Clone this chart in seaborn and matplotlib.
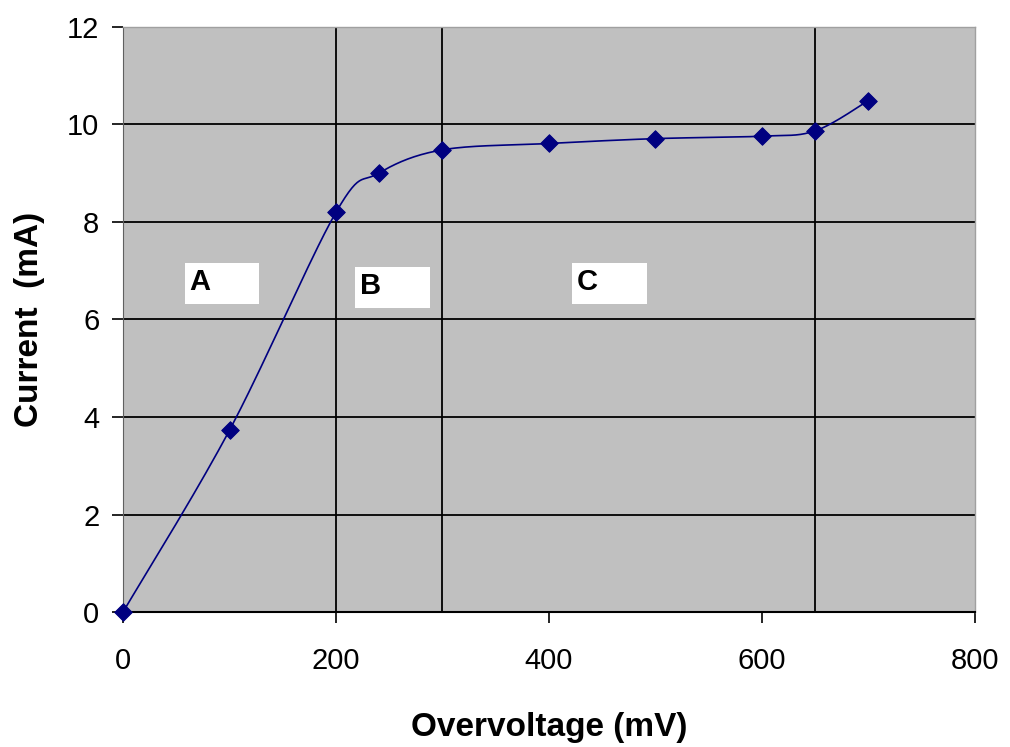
import matplotlib
matplotlib.use('Agg')
import matplotlib.pyplot as plt
from matplotlib.patches import Rectangle
import numpy as np
import pandas as pd
import seaborn as sns

# Data
overvoltage = [0, 100, 200, 240, 300, 400, 500, 600, 650, 700]
current = [0.0, 3.73, 8.2, 9.0, 9.48, 9.61, 9.71, 9.76, 9.87, 10.49]
region_labels = ['A', 'B', 'C']
region_bounds = [200, 300, 650]
x_ticks = [0, 200, 400, 600, 800]
y_ticks = [0, 2, 4, 6, 8, 10, 12]

df = pd.DataFrame({'mV': overvoltage, 'mA': current})


def smooth_curve(x, y, steps=30):
    """Excel-style smoothed line (Catmull-Rom through the points)."""
    x = np.asarray(x, float)
    y = np.asarray(y, float)
    px = np.concatenate([[x[0]], x, [x[-1]]])
    py = np.concatenate([[y[0]], y, [y[-1]]])
    xs, ys = [], []
    t = np.linspace(0, 1, steps)
    for i in range(1, len(px) - 2):
        p0, p1, p2, p3 = (np.array([px[j], py[j]]) for j in (i - 1, i, i + 1, i + 2))
        c1 = p1 + (p2 - p0) / 6
        c2 = p2 - (p3 - p1) / 6
        b = ((1 - t) ** 3)[:, None] * p1 + (3 * (1 - t) ** 2 * t)[:, None] * c1 \
            + (3 * (1 - t) * t ** 2)[:, None] * c2 + (t ** 3)[:, None] * p2
        xs.extend(b[:, 0])
        ys.extend(b[:, 1])
    return np.array(xs), np.array(ys)


sns.set_style('white', {'xtick.bottom': True, 'ytick.left': True,
                        'text.color': 'black', 'axes.labelcolor': 'black',
                        'xtick.color': 'black', 'ytick.color': 'black'})
plt.rcParams['font.family'] = ['Liberation Sans', 'DejaVu Sans']

fig = plt.figure(figsize=(10.1, 7.47), dpi=100)
ax = fig.add_axes([0.1218, 0.1807, 0.8435, 0.7832])
ax.set_facecolor('#C0C0C0')

# Gridlines
for yv in y_ticks[1:]:
    ax.axhline(yv, color='black', linewidth=1.3, zorder=1)
for xv in region_bounds:
    ax.axvline(xv, color='black', linewidth=1.3, zorder=1)

sx, sy = smooth_curve(overvoltage, current)
ax.plot(sx, sy, color='#000080', linewidth=1.2, zorder=3)
sns.scatterplot(data=df, x='mV', y='mA', marker='D', s=80, color='#000080',
                edgecolor='#000080', ax=ax, zorder=4, clip_on=False)

# Region labels in white boxes (box left edge, box bottom)
box_spots = [(58, 6.32), (218, 6.24), (422, 6.32)]
for lab, (bx, by) in zip(region_labels, box_spots):
    ax.add_patch(Rectangle((bx, by), 70, 0.84, facecolor='white',
                           edgecolor='none', zorder=5))
    ax.text(bx + 4.5, by + 0.44, lab, fontsize=21, fontweight='bold',
            color='black', va='center', ha='left', zorder=6)

ax.set_xlim(0, 800)
ax.set_ylim(0, 12)
ax.set_xticks(x_ticks)
ax.set_yticks(y_ticks)
ax.tick_params(axis='both', labelsize=21, direction='out', length=8, width=1.2,
               colors='black', pad=9)
ax.tick_params(axis='x', pad=17)

for side in ['top', 'right']:
    ax.spines[side].set_color('#A0A0A0')
    ax.spines[side].set_linewidth(1)
ax.spines['left'].set_color('#606060')
ax.spines['bottom'].set_color('black')
ax.spines['bottom'].set_linewidth(1.5)

ax.set_xlabel('Overvoltage (mV)', fontsize=24, fontweight='bold')
ax.set_ylabel('Current  (mA)', fontsize=24, fontweight='bold')
ax.xaxis.set_label_coords(0.5, -0.171)
ax.yaxis.set_label_coords(-0.092, 0.5)

fig.savefig('out.png', dpi=100)
